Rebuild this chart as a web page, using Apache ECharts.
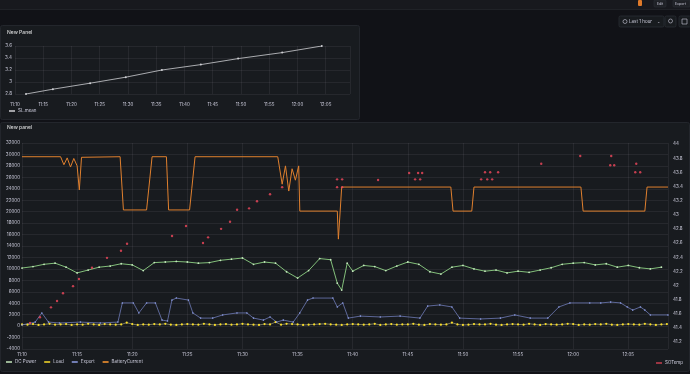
<!DOCTYPE html>
<html><head><meta charset="utf-8">
<script src="https://cdn.jsdelivr.net/npm/echarts@6/dist/echarts.min.js"></script>
<style>html,body{margin:0;padding:0;background:#111217;}#c{width:690px;height:374px;}</style>
</head><body><div id="c"></div>
<script>
// ---- tick labels (minutes from 11:10) ----
const timeLabels = ['11:10','11:15','11:20','11:25','11:30','11:35','11:40','11:45','11:50','11:55','12:00','12:05'];

// ---- top panel: SL.mean ----
const topTimes = [1.95, 6.7, 13.3, 19.6, 26.0, 32.9, 39.5, 47.3, 54.3];
const topValues = [2.8, 2.88, 2.98, 3.08, 3.2, 3.29, 3.39, 3.49, 3.6];

// ---- bottom panel ----
// DC Power, about one value per minute from 11:10
const dcTimes = [0,1,2,3,4,5,6,7,8,9,10,11,12,13,14,15,16,17,18,19,20,21,22,23,24,25,26,27,28,28.6,29,29.5,30,31,32,33,34,35,36,37,38,39,40,41,42,43,44,45,46,47,48,49,50,51,52,53,54,55,56,57,58];
const dcValues = [10150,10400,10800,11000,10300,9300,9800,10300,10500,10900,10700,9700,11100,11200,11300,11200,11000,11100,11500,11700,11900,10800,11200,11000,9500,8400,9700,11800,11600,7500,6300,11000,9600,10600,10400,9700,10500,11200,10800,9500,9100,10300,10600,10000,9600,9800,9300,9600,9400,9800,10200,10800,11000,11100,10700,10900,10300,10600,10200,10000,10300];

// Load, one value every half minute from 11:10
const loadValues = [300,250,350,200,300,400,250,300,350,200,
 300,250,400,300,200,350,300,250,300,600,
 350,200,300,250,350,300,400,250,200,300,
 350,300,250,400,300,200,300,350,250,300,
 400,300,250,200,350,300,700,250,400,350,
 300,200,250,300,350,400,300,250,200,300,
 350,300,250,300,400,200,300,350,250,300,
 300,400,250,200,350,300,250,300,600,300,
 200,250,350,300,300,400,250,200,300,350,
 300,250,400,300,200,350,300,250,300,400,
 350,200,300,250,350,300,400,250,200,300,
 350,300,250,400,300,200,300,350];

// Export
const exTimes = [0,1.2,1.8,2.4,3.4,5.3,7.1,8.7,9.1,10.1,10.6,11.3,12.1,12.7,13.2,13.6,14.0,15.1,15.5,16.2,17.3,18.2,19.5,20.4,21.0,21.9,22.5,23.1,23.7,24.6,25.2,25.9,26.4,28.2,28.6,29.1,29.6,30.7,32.5,34.3,36.1,36.8,37.9,39.0,39.7,41.6,43.4,44.7,46.1,47.7,48.7,49.7,51.5,52.5,53.4,54.3,54.9,55.4,56.1,56.5,57.0,58.6];
const exValues = [200,700,2300,700,550,700,550,700,4050,4050,2300,4050,4050,1050,900,4550,4900,4550,2300,1400,1400,1950,2300,2300,1400,1050,1600,700,1050,700,2300,4550,4900,4900,3350,4050,1400,1750,1600,1750,1400,3500,3700,3350,1400,1250,1400,1950,1400,1400,3350,4050,4050,4050,4200,4050,3350,2800,3350,2800,1950,1950];

// BatteryCurrent
const bcTimes = [0,3.5,3.8,4.1,4.4,4.7,5.0,5.2,5.4,8.9,9.2,11.3,11.8,13.1,13.3,15.2,15.4,15.7,23.2,23.6,23.9,24.2,24.5,24.8,25.1,25.2,28.6,28.7,29.0,38.9,39.1,40.8,41.0,50.7,50.9,56.5,56.7,58.6];
const bcValues = [29600,29600,28200,29400,27800,29300,28000,23800,29500,29600,20300,20300,29600,29600,20300,20300,24000,29600,29600,24800,28000,23600,27500,25500,28000,20100,20100,15200,24300,24300,20100,20100,24300,24300,20100,20100,24300,24300];

// SOTemp (right axis)
const stTimes = [0.73,1.63,2.63,3.18,3.72,4.63,5.17,6.35,7.71,8.98,9.53,13.61,14.88,16.42,16.88,18.06,18.87,19.51,20.6,21.32,22.5,23.6,28.58,29.04,28.58,29.04,32.3,35.12,35.93,36.3,35.66,36.12,41.65,42.2,42.65,42.0,42.47,43.19,47.1,50.64,53.45,53.36,53.72,55.72,55.63,56.08];
const stValues = [41.47,41.55,41.69,41.78,41.89,41.99,42.09,42.25,42.39,42.49,42.59,42.7,42.84,42.6,42.68,42.8,42.9,43.07,43.09,43.19,43.29,43.39,43.5,43.5,43.39,43.39,43.49,43.59,43.59,43.59,43.5,43.5,43.5,43.5,43.5,43.6,43.6,43.6,43.72,43.83,43.83,43.7,43.7,43.72,43.6,43.6];

const pair = (ts, vs) => ts.map((t, i) => [t, vs[i]]);
const loadData = loadValues.map((v, i) => [i * 0.5, v]);

const txt = '#ccccdc';
const gridLine = 'rgba(204,204,220,0.08)';
const fs = 4.5;
const timeFmt = v => timeLabels[Math.round(v / 5)] || '';

function xAxis(grid, max, show, margin) {
  return {type: 'value', gridIndex: grid, min: 0, max: max, interval: 5,
    axisLine: {show: false}, axisTick: {show: false},
    axisLabel: {show: show, color: txt, fontSize: fs, margin: margin, formatter: timeFmt, showMaxLabel: false, fontFamily: 'Inter'},
    splitLine: {show: show, lineStyle: {color: gridLine, width: 1}}};
}

const chart = echarts.init(document.getElementById('c'), null, {renderer: 'canvas'});
chart.setOption({
  backgroundColor: '#111217',
  animation: false,
  textStyle: {fontFamily: 'Inter'},
  graphic: [
    {type: 'rect', z: -10, shape: {x: 0, y: 0, width: 690, height: 9}, style: {fill: '#18191e'}},
    {type: 'rect', z: -10, shape: {x: 0, y: 9, width: 690, height: 1}, style: {fill: '#202227'}},
    {type: 'rect', z: -10, shape: {x: 638, y: 0, width: 4, height: 6, r: 1}, style: {fill: '#e07a2a'}},
    {type: 'rect', z: -10, shape: {x: 654, y: 0, width: 12, height: 7, r: 1}, style: {fill: '#1f2126', stroke: '#2c2f35', lineWidth: 0.6}},
    {type: 'text', z: 10, style: {x: 660, y: 3.5, text: 'Edit', fill: txt, fontSize: 3.5, align: 'center', verticalAlign: 'middle', fontFamily: 'Inter'}},
    {type: 'rect', z: -10, shape: {x: 673, y: 0, width: 17, height: 7, r: 1}, style: {fill: '#1f2126', stroke: '#2c2f35', lineWidth: 0.6}},
    {type: 'text', z: 10, style: {x: 675, y: 3.5, text: 'Export', fill: txt, fontSize: 3.5, verticalAlign: 'middle', fontFamily: 'Inter'}},
    {type: 'rect', z: -10, shape: {x: 619, y: 16, width: 45, height: 11, r: 1.5}, style: {fill: '#181b1f', stroke: '#2c3036', lineWidth: 0.7}},
    {type: 'circle', z: 10, shape: {cx: 625, cy: 21.5, r: 2}, style: {fill: 'none', stroke: txt, lineWidth: 0.6}},
    {type: 'text', z: 10, style: {x: 629, y: 21.5, text: 'Last 1 hour', fill: txt, fontSize: 4.5, verticalAlign: 'middle', fontFamily: 'Inter'}},
    {type: 'text', z: 10, style: {x: 657, y: 21.5, text: '⌄', fill: txt, fontSize: 4, verticalAlign: 'middle'}},
    {type: 'rect', z: -10, shape: {x: 665, y: 16, width: 11, height: 11, r: 1.5}, style: {fill: '#181b1f', stroke: '#2c3036', lineWidth: 0.7}},
    {type: 'circle', z: 10, shape: {cx: 670.5, cy: 21, r: 2}, style: {fill: 'none', stroke: txt, lineWidth: 0.6}},
    {type: 'rect', z: -10, shape: {x: 679, y: 16, width: 12, height: 11, r: 1.5}, style: {fill: '#181b1f', stroke: '#2c3036', lineWidth: 0.7}},
    {type: 'rect', z: 10, shape: {x: 682, y: 19, width: 5, height: 5}, style: {fill: 'none', stroke: txt, lineWidth: 0.6}},
    {type: 'rect', z: -10, shape: {x: 0.5, y: 25.5, width: 359, height: 94, r: 2}, style: {fill: '#181b1f', stroke: '#23262c', lineWidth: 1}},
    {type: 'rect', z: -10, shape: {x: 0.5, y: 122.5, width: 689, height: 249, r: 2}, style: {fill: '#181b1f', stroke: '#23262c', lineWidth: 1}},
    {type: 'text', z: 10, style: {x: 7, y: 32, text: 'New Panel', fill: '#d8d9da', fontSize: 5, fontWeight: 500, verticalAlign: 'middle', fontFamily: 'Inter'}},
    {type: 'text', z: 10, style: {x: 7, y: 127, text: 'New panel', fill: '#d8d9da', fontSize: 5, fontWeight: 500, verticalAlign: 'middle', fontFamily: 'Inter'}}
  ],
  grid: [
    {left: 15, right: 340, top: 46, bottom: 280},
    {left: 22, right: 22, top: 143, bottom: 25},
    {left: 22, right: 22, top: 144, bottom: 32}
  ],
  xAxis: [
    xAxis(0, 59.3, true, 8),
    xAxis(1, 58.6, true, 3),
    xAxis(2, 58.6, false, 3)
  ],
  yAxis: [
    {type: 'value', gridIndex: 0, min: 2.8, max: 3.6, interval: 0.2,
     axisLine: {show: false}, axisTick: {show: false},
     axisLabel: {color: txt, fontSize: fs, margin: 3, formatter: v => String(+v.toFixed(1))},
     splitLine: {lineStyle: {color: gridLine}}},
    {type: 'value', gridIndex: 1, min: -4000, max: 32000, interval: 2000,
     axisLine: {show: false}, axisTick: {show: false},
     axisLabel: {color: txt, fontSize: fs, margin: 2, formatter: v => String(Math.round(v))},
     splitLine: {lineStyle: {color: gridLine}}},
    {type: 'value', gridIndex: 2, position: 'right', min: 41.2, max: 44, interval: 0.2,
     axisLine: {show: false}, axisTick: {show: false},
     axisLabel: {color: txt, fontSize: fs, margin: 5, formatter: v => String(+v.toFixed(1))},
     splitLine: {show: false}}
  ],
  legend: [
    {data: ['SL.mean'], left: 9, top: 108.5, icon: 'rect', itemWidth: 6, itemHeight: 1.5, itemGap: 8,
     textStyle: {color: txt, fontSize: 4.5, padding: [0, 0, 0, -2]}, padding: 0},
    {data: ['DC Power', 'Load', 'Export', 'BatteryCurrent'], left: 6, top: 359.5, icon: 'rect', itemWidth: 6, itemHeight: 1.5, itemGap: 8,
     textStyle: {color: txt, fontSize: 4.5, padding: [0, 0, 0, -2]}, padding: 0},
    {data: ['SOTemp'], left: 656, top: 360.5, icon: 'rect', itemWidth: 6, itemHeight: 1.5,
     textStyle: {color: txt, fontSize: 4.5, padding: [0, 0, 0, -2]}, padding: 0}
  ],
  series: [
    {name: 'SL.mean', type: 'line', xAxisIndex: 0, yAxisIndex: 0, data: pair(topTimes, topValues),
     color: '#cfd0d4', lineStyle: {width: 0.8}, symbol: 'circle', symbolSize: 2, showSymbol: true},
    {name: 'DC Power', type: 'line', xAxisIndex: 1, yAxisIndex: 1, data: pair(dcTimes, dcValues), z: 3,
     color: '#73BF69', lineStyle: {width: 0.9, color: '#8fd184'}, symbol: 'circle', symbolSize: 1.8,
     itemStyle: {color: '#c4e8bd'}},
    {name: 'Load', type: 'line', xAxisIndex: 1, yAxisIndex: 1, data: loadData, z: 3,
     color: '#FADE2A', lineStyle: {width: 0.6, color: '#b9b58a'}, symbol: 'circle', symbolSize: 2.2},
    {name: 'Export', type: 'line', xAxisIndex: 1, yAxisIndex: 1, data: pair(exTimes, exValues), z: 3,
     color: '#8f9fe6', lineStyle: {width: 0.8, color: '#6e7bb8'}, symbol: 'circle', symbolSize: 1.6},
    {name: 'BatteryCurrent', type: 'line', xAxisIndex: 1, yAxisIndex: 1, data: pair(bcTimes, bcValues), z: 4,
     color: '#FF9830', lineStyle: {width: 1, color: '#e0802e'}, showSymbol: false, symbol: 'none'},
    {name: 'SOTemp', type: 'scatter', xAxisIndex: 2, yAxisIndex: 2, data: pair(stTimes, stValues), z: 5,
     color: '#F2495C', symbolSize: 2.4}
  ]
});
</script>
</body></html>
